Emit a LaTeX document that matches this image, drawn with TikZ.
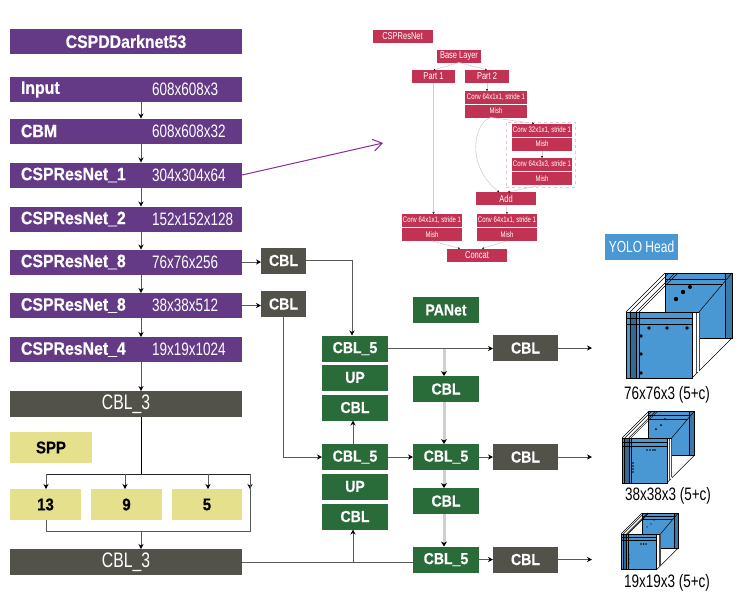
\documentclass[tikz,border=0pt]{standalone}
\usepackage{fontspec}
\usetikzlibrary{arrows.meta}
\newfontfamily\heavyfont[FakeStretch=0.88,FakeBold=0.4]{Liberation Sans Bold}
\newfontfamily\lightfont[FakeStretch=0.75]{Liberation Sans}
\definecolor{darkpurple}{HTML}{643A87}
\definecolor{darkgrey}{HTML}{52514A}
\definecolor{darkgreen}{HTML}{2A6B3A}
\definecolor{paleyellow}{HTML}{E4E08C}
\definecolor{cspred}{HTML}{C23353}
\definecolor{headblue}{HTML}{4A98D3}
\definecolor{palepink}{HTML}{EFC4CF}
\definecolor{paleline}{HTML}{CFCFCF}
\definecolor{arrowpurple}{HTML}{8A2B96}
\tikzset{
  box/.style={inner sep=0pt,outer sep=0pt,text=white},
  purplebox/.style={box,fill=darkpurple,minimum width=232pt,minimum height=25pt},
  greybar/.style={box,fill=darkgrey,minimum width=232pt,minimum height=26pt,font=\lightfont\fontsize{21}{21}\selectfont},
  greybox/.style={box,fill=darkgrey,minimum width=65pt,minimum height=26pt,font=\heavyfont\fontsize{16}{16}\selectfont},
  smallgrey/.style={greybox,minimum width=45pt},
  greenbox/.style={box,fill=darkgreen,minimum width=66pt,minimum height=26pt,font=\heavyfont\fontsize{16}{16}\selectfont},
  yellowbox/.style={box,fill=paleyellow,text=black,minimum height=31pt,font=\heavyfont\fontsize{17}{17}\selectfont},
  redbox/.style={box,fill=cspred,minimum width=60pt,minimum height=13pt,font=\lightfont\fontsize{8}{8}\selectfont},
  bigred/.style={redbox,font=\lightfont\fontsize{10}{10}\selectfont},
  bluebox/.style={box,fill=headblue,minimum width=73pt,minimum height=26pt,font=\lightfont\fontsize{16}{16}\selectfont},
  rowname/.style={box,anchor=west,font=\heavyfont\fontsize{18}{18}\selectfont},
  rowsize/.style={box,anchor=west,font=\lightfont\fontsize{18}{18}\selectfont},
  sizelabel/.style={inner sep=0pt,font=\lightfont\fontsize{18}{18}\selectfont},
  line/.style={draw=black!65,line width=.7pt,-{Stealth[length=5pt,width=5pt,black]}},
  plain/.style={draw=black!65,line width=.7pt},
  wideline/.style={draw=paleline,line width=3pt,-{Stealth[length=5pt,width=6pt,black]}},
  redline/.style={draw=paleline,line width=.6pt,-{Stealth[length=2pt,width=2pt,black]}},
  pics/yolocube/.style={code={
    \fill[headblue] (39,-39) rectangle (106,26);
    \fill[black,opacity=.2] (99,-39) rectangle (106,26);
    \draw[black,line width=.5pt] (39,-39) rectangle (106,26);
    \draw[black,line width=.5pt] (39,-33) -- (100,-33) (39,-28) -- (97,-28) (99,-39) -- (99,26);
    \draw[black,line width=.5pt] (0,0) -- (39,-39) (4,0) -- (43,-39) (10,0) -- (49,-39) (13,0) -- (52,-39);
    \draw[black,line width=.5pt] (73,0) -- (106,-39) (66,66) -- (106,26);
    \fill[white] (66,0) rectangle (73,60);
    \draw[black!70,line width=.5pt] (70,0) -- (70,62) (73,0) -- (73,58);
    \draw[black,line width=.5pt] (0,0) -- (73,0);
    \fill[headblue] (0,0) rectangle (66,66);
    \fill[black,opacity=.3] (4,0) rectangle (10,66);
    \draw[black,line width=.5pt] (0,0) rectangle (66,66);
    \draw[black,line width=.5pt] (0,6) -- (66,6) (0,12) -- (66,12) (4,0) -- (4,66) (10,0) -- (10,66) (13,0) -- (13,66);
  }}
}
\begin{document}
\begin{tikzpicture}[x=1pt,y=-1pt]
\useasboundingbox (0,0) rectangle (747,606);
% backbone
\node[purplebox,font=\heavyfont\fontsize{18}{18}\selectfont] (darknet) at (126,41.5) {CSPDDarknet53};
\node[purplebox] (input) at (126,89.5) {};
\node[purplebox] (cbm) at (126,131) {};
\node[purplebox] (res1) at (126,175) {};
\node[purplebox] (res2) at (126,219) {};
\node[purplebox] (res8a) at (126,262) {};
\node[purplebox] (res8b) at (126,305.5) {};
\node[purplebox] (res4) at (126,349.5) {};
\node[rowname] (inputname) at (21,89.5) {Input};
\node[rowname] (cbmname) at (21,131) {CBM};
\node[rowname] (res1name) at (21,175) {CSPResNet\_1};
\node[rowname] (res2name) at (21,219) {CSPResNet\_2};
\node[rowname] (res8aname) at (21,262) {CSPResNet\_8};
\node[rowname] (res8bname) at (21,305.5) {CSPResNet\_8};
\node[rowname] (res4name) at (21,349.5) {CSPResNet\_4};
\node[rowsize] (inputsize) at (152,89.5) {608x608x3};
\node[rowsize] (cbmsize) at (152,131) {608x608x32};
\node[rowsize] (res1size) at (152,175) {304x304x64};
\node[rowsize] (res2size) at (152,219) {152x152x128};
\node[rowsize] (res8asize) at (152,262) {76x76x256};
\node[rowsize] (res8bsize) at (152,305.5) {38x38x512};
\node[rowsize] (res4size) at (152,349.5) {19x19x1024};
\node[greybar] (cbl3a) at (126,404) {CBL\_3};
\node[greybar] (cbl3b) at (126,562) {CBL\_3};
% spp
\node[yellowbox,minimum width=82pt] (spp) at (51,447.5) {SPP};
\node[yellowbox,minimum width=71pt] (pool13) at (45.5,504.5) {13};
\node[yellowbox,minimum width=71pt] (pool9) at (126.5,504.5) {9};
\node[yellowbox,minimum width=70pt] (pool5) at (207,504.5) {5};
\coordinate (busmid) at (141,474);
\coordinate (busleft) at (46,474);
\coordinate (busright) at (250,474);
\coordinate (busnine) at (125,474);
\coordinate (busfive) at (208,474);
\coordinate (skip) at (250,489);
\coordinate (backright) at (250,531);
\coordinate (backleft) at (46,531);
\coordinate (backmid) at (141,531);
\draw[plain,draw=black,line width=1pt] ([xshift=15pt]cbl3a.south) -- (busmid);
\draw[plain,draw=black!85,line width=1pt] (busleft) -- (busright);
\draw[line] (busleft) -- (pool13.north -| busleft);
\draw[line] (busnine) -- (pool9.north -| busnine);
\draw[line] (busfive) -- (pool5.north -| busfive);
\draw[line] (busright) -- (skip);
\draw[plain,line width=1pt] (pool13.south -| backleft) -- (backleft) -- (backright) -- (busright);
\draw[line] (backmid) -- ([xshift=15pt]cbl3b.north);
\draw[line] ([xshift=15pt]input.south) -- ([xshift=15pt]cbm.north);
\draw[line] ([xshift=15pt]cbm.south) -- ([xshift=15pt]res1.north);
\draw[line] ([xshift=15pt]res1.south) -- ([xshift=15pt]res2.north);
\draw[line] ([xshift=15pt]res2.south) -- ([xshift=15pt]res8a.north);
\draw[line] ([xshift=15pt]res8a.south) -- ([xshift=15pt]res8b.north);
\draw[line] ([xshift=15pt]res8b.south) -- ([xshift=15pt]res4.north);
\draw[line] ([xshift=15pt]res4.south) -- ([xshift=15pt]cbl3a.north);
% neck
\node[smallgrey] (cblup) at (283.5,260.5) {CBL};
\node[smallgrey] (cbldown) at (283.5,304) {CBL};
\node[greenbox] (fivea) at (355,348.5) {CBL\_5};
\node[greenbox] (upa) at (355,377.5) {UP};
\node[greenbox] (cbla) at (355,407.5) {CBL};
\node[greenbox] (fiveb) at (355,457) {CBL\_5};
\node[greenbox] (upb) at (355,486.5) {UP};
\node[greenbox] (cblb) at (355,516.5) {CBL};
\node[greenbox] (panet) at (446,310) {PANet};
\node[greenbox] (cblc) at (446,389) {CBL};
\node[greenbox] (fivec) at (446,457) {CBL\_5};
\node[greenbox] (cbld) at (446,501) {CBL};
\node[greenbox] (fived) at (446,559.5) {CBL\_5};
\node[greybox] (outa) at (525.5,348) {CBL};
\node[greybox] (outb) at (525.5,457) {CBL};
\node[greybox] (outc) at (525.5,559.5) {CBL};
\coordinate (enda) at (592,348);
\coordinate (endb) at (592,457);
\coordinate (endc) at (592,559.5);
\coordinate (branch) at (444,348);
\coordinate (join) at (353,562);
\draw[line] (res8a.east) -- (cblup.west |- res8a.east);
\draw[line] (res8b.east) -- (cbldown.west |- res8b.east);
\draw[line] (cblup.east) -| ([xshift=-3pt]fivea.north);
\draw[line] (cbldown.south) |- (fiveb.west);
\draw[line] ([xshift=-2pt]fiveb.north) -- ([xshift=-2pt]cbla.south);
\draw[plain] (cbl3b.east) -- (fived.west |- cbl3b.east);
\draw[line] (join) -- (cblb.south -| join);
\draw[wideline] (branch) -- (cblc.north -| branch);
\draw[line] (fivea.east) -- (outa.west |- fivea.east);
\draw[wideline] ([xshift=-2pt]cblc.south) -- ([xshift=-2pt]fivec.north);
\draw[line] (fiveb.east) -- (fivec.west);
\draw[wideline] ([xshift=-2pt]fivec.south) -- ([xshift=-2pt]cbld.north);
\draw[wideline] ([xshift=-2pt]cbld.south) -- ([xshift=-2pt]fived.north);
\draw[line] (fivec.east) -- (outb.west);
\draw[line] (fived.east) -- (outc.west);
\draw[line] (outa.east) -- (enda);
\draw[line] (outb.east) -- (endb);
\draw[line] (outc.east) -- (endc);
% cspresnet detail
\node[bigred] (csptitle) at (402.5,36) {CSPResNet};
\node[bigred,minimum width=44pt] (base) at (459,56) {Base Layer};
\node[bigred,minimum width=43pt] (part1) at (433.5,76.5) {Part 1};
\node[bigred,minimum width=44pt] (part2) at (487,76.5) {Part 2};
\node[redbox,minimum width=62pt] (conv0) at (496,97.5) {Conv 64x1x1, stride 1};
\node[redbox,minimum width=62pt] (mish0) at (496,111) {Mish};
\node[draw=palepink,dashed,line width=.5pt,inner sep=0pt,minimum width=69pt,minimum height=65pt] (dashbox) at (540.5,154.5) {};
\node[redbox] (conv1) at (542,130) {Conv 32x1x1, stride 1};
\node[redbox] (mish1) at (542,144) {Mish};
\node[redbox] (conv2) at (542,164.5) {Conv 64x3x3, stride 1};
\node[redbox] (mish2) at (542,178.5) {Mish};
\node[bigred] (add) at (506,198.5) {Add};
\node[redbox] (conv3) at (432,220.5) {Conv 64x1x1, stride 1};
\node[redbox] (mish3) at (432,234.5) {Mish};
\node[redbox] (conv4) at (507,220.5) {Conv 64x1x1, stride 1};
\node[redbox] (mish4) at (507,234.5) {Mish};
\node[bigred] (concat) at (477,255) {Concat};
\draw[redline] (base.south) -- (part1.north);
\draw[redline] (base.south) -- (part2.north);
\draw[redline] (part2.south) -- (conv0.north -| part2.south);
\draw[redline] (part1.south) -- (conv3.north -| part1.south);
\draw[redline] ([xshift=-5pt]mish0.south) -- ([xshift=-8pt]conv1.north);
\draw[redline] (mish1.south) -- (conv2.north);
\draw[redline] (mish2.south) -- ([xshift=2pt]add.north);
\draw[redline] ([xshift=-5pt]mish0.south) .. controls (474,122) and (465,165) .. ([xshift=-7pt]add.north);
\draw[redline] (add.south) -- (conv4.north);
\draw[redline] (mish3.south) -- ([xshift=-17pt]concat.north);
\draw[redline] (mish4.south) -- ([xshift=5pt]concat.north);
\coordinate (arrowend) at (383,143);
\draw[draw=arrowpurple,line width=1pt,-{Straight Barb[length=9pt,width=12pt]}] (res1.east) -- (arrowend);
% head
\node[bluebox] (head) at (641.5,247) {YOLO Head};
\pic[scale=1] (cubea) at (626,312) {yolocube};
\pic[scale=.68] (cubeb) at (622,438) {yolocube};
\pic[scale=.54] (cubec) at (621,534) {yolocube};
\fill[black] (649,328) circle (1.8) (667,328) circle (1.8) (687,328) circle (1.8) (641,336) circle (1.8) (641,354) circle (1.8) (641,373) circle (1.8) (676,299) circle (2.2) (683,292) circle (2.2) (690,287) circle (2);
\fill[black] (647,450) circle (.9) (650,450) circle (.9) (653,450) circle (.9) (655,450) circle (.9) (633,463) circle (.9) (633,466) circle (.9) (633,469) circle (.9) (633,472) circle (.9) (656,429) circle (1) (661,425) circle (1) (665,419) circle (1);
\fill[black] (641,544) circle (.8) (643.5,544) circle (.8) (646,544) circle (.8) (629,555) circle (.6) (629,559) circle (.6) (629,563) circle (.6) (647,527) circle (.6) (651,524) circle (.6) (654,520) circle (.6);
\node[sizelabel] (sizea) at (667,395) {76x76x3 (5+c)};
\node[sizelabel] (sizeb) at (668,496) {38x38x3 (5+c)};
\node[sizelabel] (sizec) at (667,583) {19x19x3 (5+c)};
\end{tikzpicture}
\end{document}
